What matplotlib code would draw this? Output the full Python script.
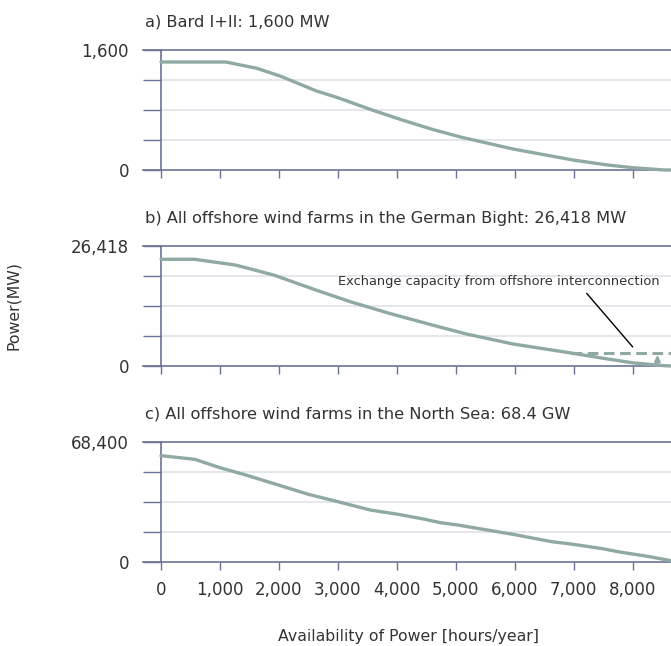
import numpy as np
import matplotlib.pyplot as plt

plt.rcParams['font.family'] = ['Liberation Sans Narrow', 'DejaVu Sans']

# availability (hours/year) and power (MW)
hours_a = [0, 1100, 1625, 2020, 2640, 3000, 3580, 4090, 4600, 5100, 5970, 6990, 7570, 8000, 8540, 8650]
power_a = [1440, 1440, 1356, 1253, 1053, 964, 800, 667, 542, 436, 280, 133, 67, 31, 0, 0]

hours_b = [0, 570, 1260, 1910, 2660, 3210, 3870, 4600, 5180, 5970, 6920, 7500, 8000, 8500, 8650]
power_b = [23490, 23490, 22235, 20034, 16578, 14157, 11600, 9026, 7045, 4843, 2935, 1700, 700, 100, 0]

hours_c = [0, 570, 1000, 1440, 1990, 2500, 3000, 3550, 4020, 4450, 4740, 5030, 5970, 6630, 6990, 7490, 7780, 8290, 8650]
power_c = [60590, 58540, 53750, 49590, 43890, 38590, 34370, 29640, 27190, 24510, 22400, 21090, 15770, 11570, 10090, 7580, 5700, 3020, 740]

exchange_start = 6950
exchange_mw = 2850
arrow_hour = 8420

panels = [
    ('a) Bard I+II: 1,600 MW', 1600, '1,600', hours_a, power_a),
    ('b) All offshore wind farms in the German Bight: 26,418 MW', 26418, '26,418', hours_b, power_b),
    ('c) All offshore wind farms in the North Sea: 68.4 GW', 68400, '68,400', hours_c, power_c),
]
xticks = np.arange(0, 9000, 1000)
xlabels = [f'{t:,}' for t in xticks]

W, H = 671, 646
fig = plt.figure(figsize=(W / 100, H / 100), dpi=100)

line_col = '#90a9a5'
spine_col = '#6b7396'
grid_col = '#e2e2ea'
text_col = '#333333'

tops = [50, 246, 442]
axes = []
for (title, top, toplab, hx, py), t in zip(panels, tops):
    ax = fig.add_axes([161 / W, 1 - (t + 120) / H, 510 / W, 120 / H])
    axes.append(ax)
    ax.set_xlim(0, 8650)
    ax.set_ylim(0, top)
    ax.plot(hx, py, color=line_col, lw=2.4, solid_capstyle='round', clip_on=False, zorder=3)
    yt = np.linspace(0, top, 5)
    ax.set_yticks(yt)
    ax.set_yticklabels(['0', '', '', '', toplab])
    for v in yt[1:4]:
        ax.axhline(v, color=grid_col, lw=1.2, zorder=1)
    ax.set_xticks(xticks)
    ax.set_xticklabels([])
    ax.tick_params(axis='y', length=13, width=1, color=spine_col, pad=10,
                   labelsize=12, labelcolor=text_col)
    ax.tick_params(axis='x', length=6, width=1, color=spine_col, pad=8,
                   labelsize=12, labelcolor=text_col)
    for s in ['left', 'top', 'bottom']:
        ax.spines[s].set_color(spine_col)
        ax.spines[s].set_linewidth(1.2)
    ax.spines['right'].set_visible(False)
    # top and bottom lines reach left of the axis like long ticks
    ax.plot([-0.0353, 0], [1, 1], transform=ax.transAxes, color=spine_col, lw=1.2, clip_on=False)
    ax.plot([-0.0353, 0], [0, 0], transform=ax.transAxes, color=spine_col, lw=1.2, clip_on=False)
    fig.text(145 / W, 1 - (t - 28) / H, title, fontsize=11.7, color=text_col, va='center', ha='left')

axes[2].set_xticklabels(xlabels)

# exchange capacity in panel b
axb = axes[1]
axb.plot([exchange_start, 8650], [exchange_mw, exchange_mw], color=line_col, lw=2.2,
         ls=(0, (3.5, 1.8)), zorder=3, clip_on=False)
axb.annotate('', xy=(arrow_hour, exchange_mw * 0.85), xytext=(arrow_hour, 250),
             arrowprops=dict(arrowstyle='-|>', color=line_col, lw=1.5, mutation_scale=9,
                             shrinkA=0, shrinkB=0))
axb.text(3000, 18700, 'Exchange capacity from offshore interconnection',
         fontsize=9.4, color=text_col, va='center', ha='left')
axb.annotate('', xy=(8000, 4200), xytext=(7220, 16000),
             arrowprops=dict(arrowstyle='-', color='black', lw=1, shrinkA=0, shrinkB=0))

fig.text(14 / W, 1 - 305 / H, 'Power(MW)', rotation=90, fontsize=11.3, color=text_col, va='center', ha='center')
fig.text(408 / W, 1 - 637 / H, 'Availability of Power [hours/year]', fontsize=11.3, color=text_col, va='center', ha='center')

fig.savefig('out.png', dpi=100)
